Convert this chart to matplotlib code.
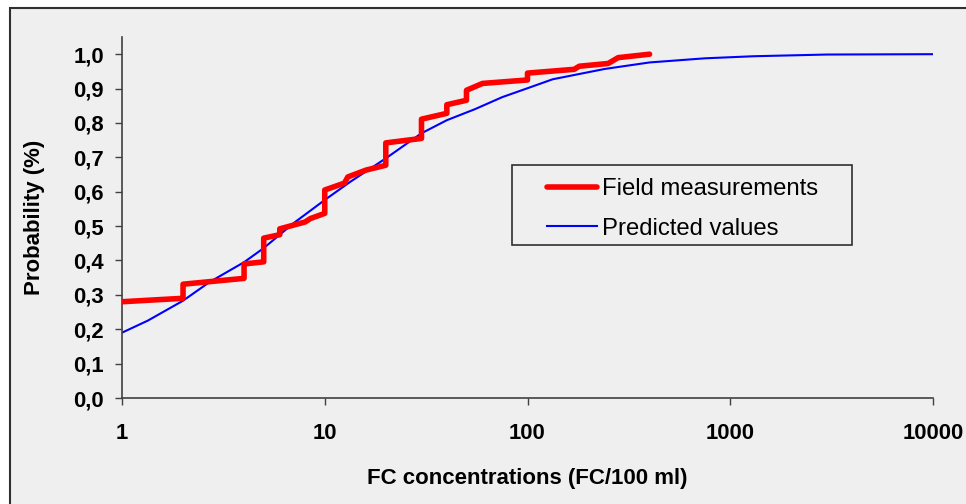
import matplotlib.pyplot as plt
from matplotlib.patches import Rectangle
from matplotlib.ticker import FixedLocator, NullLocator

# Field measurements (step-like empirical curve)
field_x = [1, 2, 2, 4, 4, 5, 5, 6, 6, 8, 8.5, 10, 10, 12.5, 13, 16, 20, 20,
           30, 30, 40, 40, 50, 50, 60, 100, 100, 170, 180, 250, 280, 400]
field_p = [0.28, 0.29, 0.331, 0.348, 0.39, 0.396, 0.465, 0.475, 0.492, 0.512, 0.522, 0.537, 0.605, 0.625,
           0.643, 0.663, 0.677, 0.742, 0.755, 0.811, 0.828, 0.853, 0.866, 0.895,
           0.915, 0.925, 0.945, 0.956, 0.965, 0.973, 0.99, 1.0]

# Predicted values
pred_x = [1, 1.34, 2, 2.7, 4, 5, 7, 10, 13.3, 20, 30, 40, 55, 75, 100, 133,
          240, 400, 750, 1300, 3000, 10000]
pred_p = [0.19, 0.225, 0.283, 0.337, 0.395, 0.436, 0.508, 0.576, 0.628, 0.697,
          0.77, 0.808, 0.84, 0.875, 0.901, 0.927, 0.957, 0.976, 0.988, 0.994,
          0.999, 1.0]

x_ticks = [1, 10, 100, 1000, 10000]
x_labels = ['1', '10', '100', '1000', '10000']
y_ticks = [0.0, 0.1, 0.2, 0.3, 0.4, 0.5, 0.6, 0.7, 0.8, 0.9, 1.0]
y_labels = ['0,0', '0,1', '0,2', '0,3', '0,4', '0,5', '0,6', '0,7', '0,8', '0,9', '1,0']

bg = '#efefef'
plt.rcParams['font.family'] = ['Liberation Sans', 'DejaVu Sans']

W, H = 966, 504
fig = plt.figure(figsize=(W / 100, H / 100), dpi=100, facecolor='white')

# outer chart border (only left/top visible in the crop)
fig.patches.append(Rectangle((10 / W, -0.1), 1.2, 1 - 8 / H + 0.1, transform=fig.transFigure,
                             facecolor=bg, edgecolor='#303030', linewidth=1.5, zorder=-10))

ax = fig.add_axes([122 / W, 1 - 398 / H, (933 - 122) / W, (398 - 37) / H])
ax.set_zorder(5)
ax.patch.set_visible(False)

ax.plot(field_x, field_p, color='#ff0000', linewidth=4.0, solid_joinstyle='round',
        solid_capstyle='round', label='Field measurements', zorder=3)
ax.plot(pred_x, pred_p, color='#0000ff', linewidth=1.5, label='Predicted values', zorder=2)

ax.set_xscale('log')
ax.set_xlim(1, 10000)
ax.set_ylim(0, 1.05)
ax.xaxis.set_major_locator(FixedLocator(x_ticks))
ax.xaxis.set_minor_locator(NullLocator())
ax.set_xticklabels(x_labels)
ax.set_yticks(y_ticks)
ax.set_yticklabels(y_labels)

for s in ['top', 'right']:
    ax.spines[s].set_visible(False)
for s in ['left', 'bottom']:
    ax.spines[s].set_color('#404040')
    ax.spines[s].set_linewidth(1.2)

ax.tick_params(axis='both', length=5, width=1, color='#404040', labelsize=15.8)
ax.tick_params(axis='x', pad=13)
ax.tick_params(axis='y', pad=8)
for lbl in ax.get_xticklabels() + ax.get_yticklabels():
    lbl.set_fontweight('bold')

ax.set_xlabel('FC concentrations (FC/100 ml)', fontsize=16, fontweight='bold', labelpad=17)
ax.set_ylabel('Probability (%)', fontsize=16, fontweight='bold', labelpad=20)

# legend frame drawn separately so the entries can sit inset like the original
ax.add_patch(Rectangle((0.481, 0.424), 0.419, 0.221, transform=ax.transAxes,
                       facecolor=bg, edgecolor='#303030', linewidth=1.2, zorder=4))
leg = ax.legend(loc='upper left', bbox_to_anchor=(0.524, 0.609), frameon=False,
                fontsize=17.2, handlelength=2.1, handletextpad=0.2, labelspacing=0.73,
                borderpad=0, borderaxespad=0)
leg.set_zorder(6)

fig.savefig('out.png', dpi=100, facecolor=fig.get_facecolor())
